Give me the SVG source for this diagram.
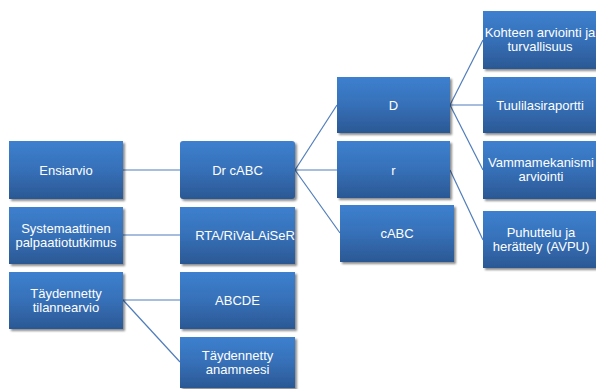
<svg xmlns="http://www.w3.org/2000/svg" width="596" height="389" viewBox="0 0 596 389">
<defs>
<linearGradient id="g" x1="0" y1="0" x2="0" y2="1">
<stop offset="0" stop-color="#3d80cf"/>
<stop offset="0.5" stop-color="#3670b8"/>
<stop offset="1" stop-color="#2b5894"/>
</linearGradient>
<filter id="sh" x="-10%" y="-10%" width="130%" height="130%">
<feGaussianBlur in="SourceAlpha" stdDeviation="1"/>
<feOffset dx="2" dy="2" result="o"/>
<feComponentTransfer><feFuncA type="linear" slope="0.45"/></feComponentTransfer>
<feMerge><feMergeNode/><feMergeNode in="SourceGraphic"/></feMerge>
</filter>
</defs>
<style>
.box{fill:url(#g);filter:url(#sh)}
.t{font-family:"Liberation Sans",Arial,sans-serif;font-size:13px;fill:#ffffff;text-anchor:middle}
.c{stroke:#4f7dbb;stroke-width:1.2;fill:none}
</style>
<rect width="596" height="389" fill="#ffffff"/>
<g id="connectors">
<line class="c" x1="123" y1="170" x2="180" y2="170"/>
<line class="c" x1="123" y1="235" x2="180" y2="235"/>
<line class="c" x1="123" y1="300" x2="180" y2="300"/>
<line class="c" x1="123" y1="300" x2="180" y2="362"/>
<line class="c" x1="295" y1="170" x2="337" y2="105"/>
<line class="c" x1="295" y1="170" x2="337" y2="170"/>
<line class="c" x1="295" y1="170" x2="340" y2="233"/>
<line class="c" x1="450" y1="105" x2="483" y2="40"/>
<line class="c" x1="450" y1="105" x2="483" y2="105"/>
<line class="c" x1="450" y1="105" x2="483" y2="170"/>
<line class="c" x1="450" y1="170" x2="483" y2="240"/>
</g>
<g id="ensiarvio"><rect class="box" x="9" y="141" width="114" height="58"/><text class="t" x="66" y="175">Ensiarvio</text></g>
<g id="systemaattinen"><rect class="box" x="9" y="207" width="114" height="57"/><text class="t" x="66" y="233">Systemaattinen</text><text class="t" x="66" y="247">palpaatiotutkimus</text></g>
<g id="taydennetty-tilannearvio"><rect class="box" x="9" y="272" width="114" height="57"/><text class="t" x="66" y="298">Täydennetty</text><text class="t" x="66" y="312">tilannearvio</text></g>
<g id="drcabc"><rect class="box" x="180" y="141" width="115" height="58" rx="3"/><text class="t" x="237.5" y="175">Dr cABC</text></g>
<g id="rta"><rect class="box" x="180" y="207" width="115" height="57"/><text class="t" x="245" y="240">RTA/RiVaLAiSeR</text></g>
<g id="abcde"><rect class="box" x="180" y="272" width="115" height="57"/><text class="t" x="237.5" y="305">ABCDE</text></g>
<g id="taydennetty-anamneesi"><rect class="box" x="180" y="337" width="115" height="51"/><text class="t" x="237.5" y="360">Täydennetty</text><text class="t" x="237.5" y="374">anamneesi</text></g>
<g id="d"><rect class="box" x="337" y="77" width="113" height="56"/><text class="t" x="393.5" y="110">D</text></g>
<g id="r"><rect class="box" x="337" y="141" width="113" height="57"/><text class="t" x="393.5" y="175">r</text></g>
<g id="cabc"><rect class="box" x="340" y="205" width="114" height="57"/><text class="t" x="397" y="238">cABC</text></g>
<g id="kohteen"><rect class="box" x="483" y="11" width="114" height="58"/><text class="t" x="540" y="37">Kohteen arviointi ja</text><text class="t" x="540" y="51">turvallisuus</text></g>
<g id="tuulilasiraportti"><rect class="box" x="483" y="77" width="114" height="56"/><text class="t" x="540" y="110">Tuulilasiraportti</text></g>
<g id="vammamekanismi"><rect class="box" x="483" y="141" width="114" height="58"/><text class="t" x="541" y="167">Vammamekanismi</text><text class="t" x="541" y="181">arviointi</text></g>
<g id="puhuttelu"><rect class="box" x="483" y="211" width="114" height="57"/><text class="t" x="541" y="237">Puhuttelu ja</text><text class="t" x="541" y="251">herättely (AVPU)</text></g>
</svg>
